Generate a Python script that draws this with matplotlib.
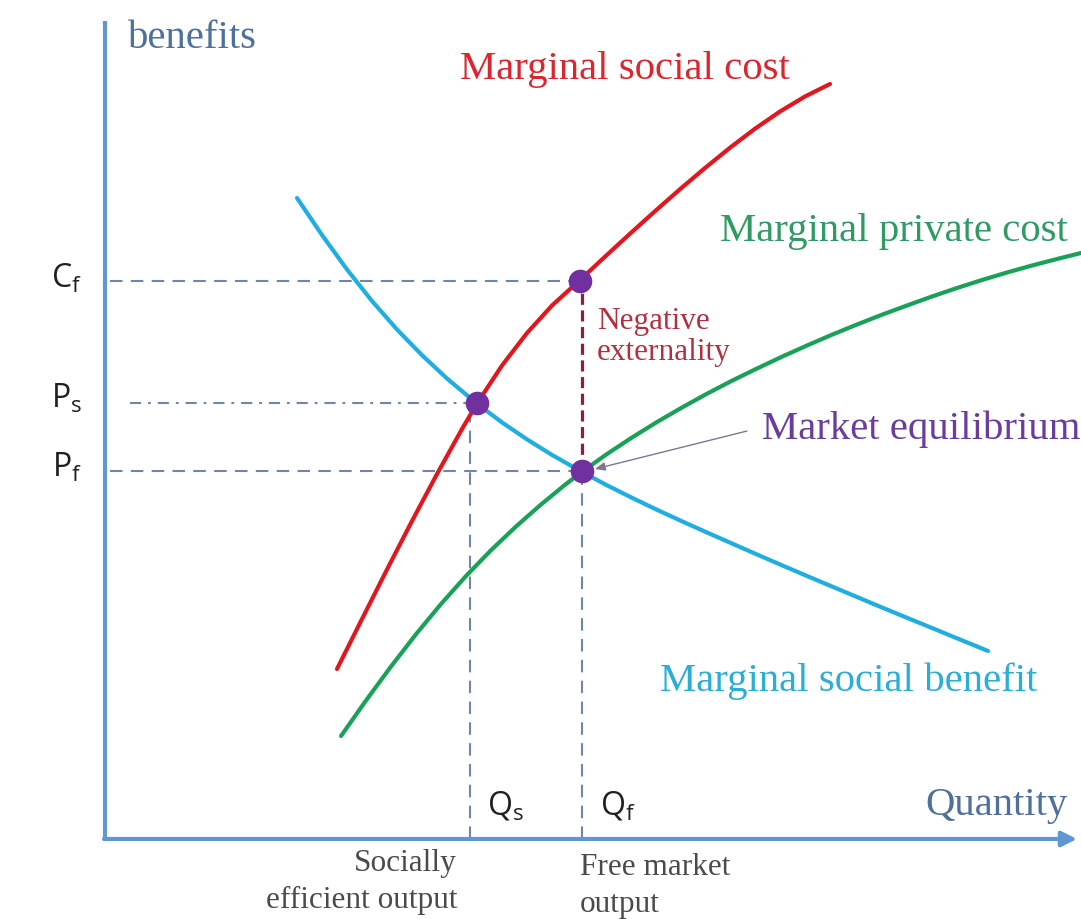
import matplotlib
matplotlib.use("Agg")
import matplotlib.pyplot as plt

plt.rcParams['lines.scale_dashes'] = False
plt.rcParams['mathtext.fontset'] = 'custom'
plt.rcParams['mathtext.rm'] = 'Open Sans'
plt.rcParams['mathtext.it'] = 'Open Sans:italic'

# ---- data (quantity, price/cost units) ----
msc_q = [232, 257, 282, 307, 332, 357, 372, 397, 422, 447, 475, 500, 525, 550, 575,
         600, 625, 650, 675, 700, 725]
msc_p = [170, 220, 269.5, 318, 365, 410, 435.5, 473.5, 506, 533.5, 559, 582.3, 605.3, 627.8,
         649.8, 671, 691.3, 710.3, 727.5, 742.5, 755]

mpc_q = [236, 261, 286, 311, 336, 361, 386, 411, 436, 461, 477, 502, 527, 552, 577, 602,
         627, 652, 677, 702, 727, 752, 777, 802, 827, 852, 877, 902, 927, 952, 976]
mpc_p = [103, 138.5, 172.5, 204.8, 235, 263, 288.8, 312.5, 334.5, 355, 367.2, 385, 401.5,
         417, 431.5, 445.3, 458.3, 470.5, 482.3, 493.5, 504.3, 514.5, 524.3, 533.5, 542.5,
         551, 559, 566.5, 573.5, 580, 586]

msb_q = [192, 217, 242, 267, 292, 317, 342, 372, 397, 422, 447, 477, 502, 527, 552, 577,
         602, 627, 652, 677, 702, 727, 752, 777, 802, 827, 852, 877, 883]
msb_p = [641, 604, 569.5, 538, 509.5, 483.8, 460.5, 435.3, 416.6, 399.6, 384.1, 367,
         353.7, 341.2, 329.2, 317.7, 306.5, 295.5, 284.5, 273.7, 263, 252.5, 242, 231.5,
         221.2, 211, 200.7, 190.5, 188]

q_s, q_f = 365, 477
p_c, p_s, p_f = 558, 436, 368
points_q = [475, 372, 477]
points_p = [558, 436, 368]

price_labels = ['C_f', 'P_s', 'P_f']
qty_labels = ['Q_s', 'Q_f']

red = '#E3161E'
green = '#19A257'
blue = '#20AEE0'
purple = '#7030A0'
axis_col = '#5F97D2'
dash_col = '#6F86A6'

fig = plt.figure(figsize=(10.81, 9.19), dpi=100)
ax = fig.add_axes([0, 0, 1, 1])
ax.set_xlim(-105, 976)
ax.set_ylim(-80, 839)
ax.axis('off')

serif = 'Liberation Serif'

# axes
ax.plot([0, 0], [0, 818], color=axis_col, lw=3, solid_capstyle='butt', zorder=2)
ax.annotate('', xy=(972, 0), xytext=(-1, 0),
            arrowprops=dict(arrowstyle='-|>,head_length=0.9,head_width=0.45',
                            color=axis_col, lw=3, shrinkA=0, shrinkB=0), zorder=2)

# guide lines
ax.plot([5, points_q[0]], [p_c, p_c], color=dash_col, lw=1.5, dashes=(9, 6), zorder=1)
ax.plot([25, points_q[1]], [p_s, p_s], color=dash_col, lw=1.5, dashes=(8, 5, 2, 5), zorder=1)
ax.plot([5, q_f], [p_f, p_f], color=dash_col, lw=1.5, dashes=(9, 6), zorder=1)
ax.plot([q_s, q_s], [0, p_s - 10], color=dash_col, lw=1.5, dashes=(9, 6), zorder=1)
ax.plot([q_f, q_f], [0, p_f], color=dash_col, lw=1.5, dashes=(9, 6), zorder=1)
ax.plot([q_f, q_f], [p_f, p_c], color='#8E1E3C', lw=2.3, dashes=(8, 4), zorder=1)

# curves
ax.plot(msc_q, msc_p, color=red, lw=3, solid_capstyle='round', solid_joinstyle='round', zorder=3)
ax.plot(mpc_q, mpc_p, color=green, lw=3, solid_capstyle='round', solid_joinstyle='round', zorder=3)
ax.plot(msb_q, msb_p, color=blue, lw=3, solid_capstyle='round', solid_joinstyle='round', zorder=3)

ax.plot(points_q, points_p, 'o', color=purple, ms=17, zorder=5, markeredgewidth=0)

# labels
big = 29.3
ax.text(355, 770, 'Marginal social cost', color='#D9262F', fontsize=big, family=serif, va='center', ha='left')
ax.text(615, 608, 'Marginal private cost', color='#2F9A62', fontsize=big, family=serif, va='center', ha='left')
ax.text(555, 158, 'Marginal social benefit', color='#2AAED6', fontsize=big, family=serif, va='center', ha='left')
ax.text(657, 410, 'Market equilibrium', color='#6A3C9C', fontsize=big, family=serif, va='center', ha='left')
ax.text(820, 33, 'Quantity', color='#4F6F9C', fontsize=big, family=serif, va='center', ha='left')
ax.text(23, 801, 'benefits', color='#4F6F9C', fontsize=big, family=serif, va='center', ha='left')

ax.text(492, 502, 'Negative\nexternality', color='#B0303F', fontsize=22.5, family=serif,
        va='center', ha='left', linespacing=1.12)

ax.text(352, -43, 'Socially\nefficient output', color='#4A4A4A', fontsize=22.5, family=serif,
        va='center', ha='right', multialignment='right', linespacing=1.32)
ax.text(475, -47, 'Free market\noutput', color='#4A4A4A', fontsize=22.5, family=serif,
        va='center', ha='left', linespacing=1.32)

for lab, p in zip(price_labels, [p_c + 3, p_s + 5, p_f + 4]):
    ax.text(-23, p, r'$\mathrm{%s}$' % lab, color='#202020', fontsize=23, va='center', ha='right')
for lab, q in zip(qty_labels, [q_s + 17, q_f + 18]):
    ax.text(q, 34, r'$\mathrm{%s}$' % lab, color='#202020', fontsize=23, va='center', ha='left')

ax.annotate('', xy=(490, 370), xytext=(642, 408),
            arrowprops=dict(arrowstyle='-|>,head_length=0.6,head_width=0.25',
                            color='#7F7590', lw=1.0, shrinkA=0, shrinkB=0), zorder=4)

fig.savefig('out.png', dpi=100)
